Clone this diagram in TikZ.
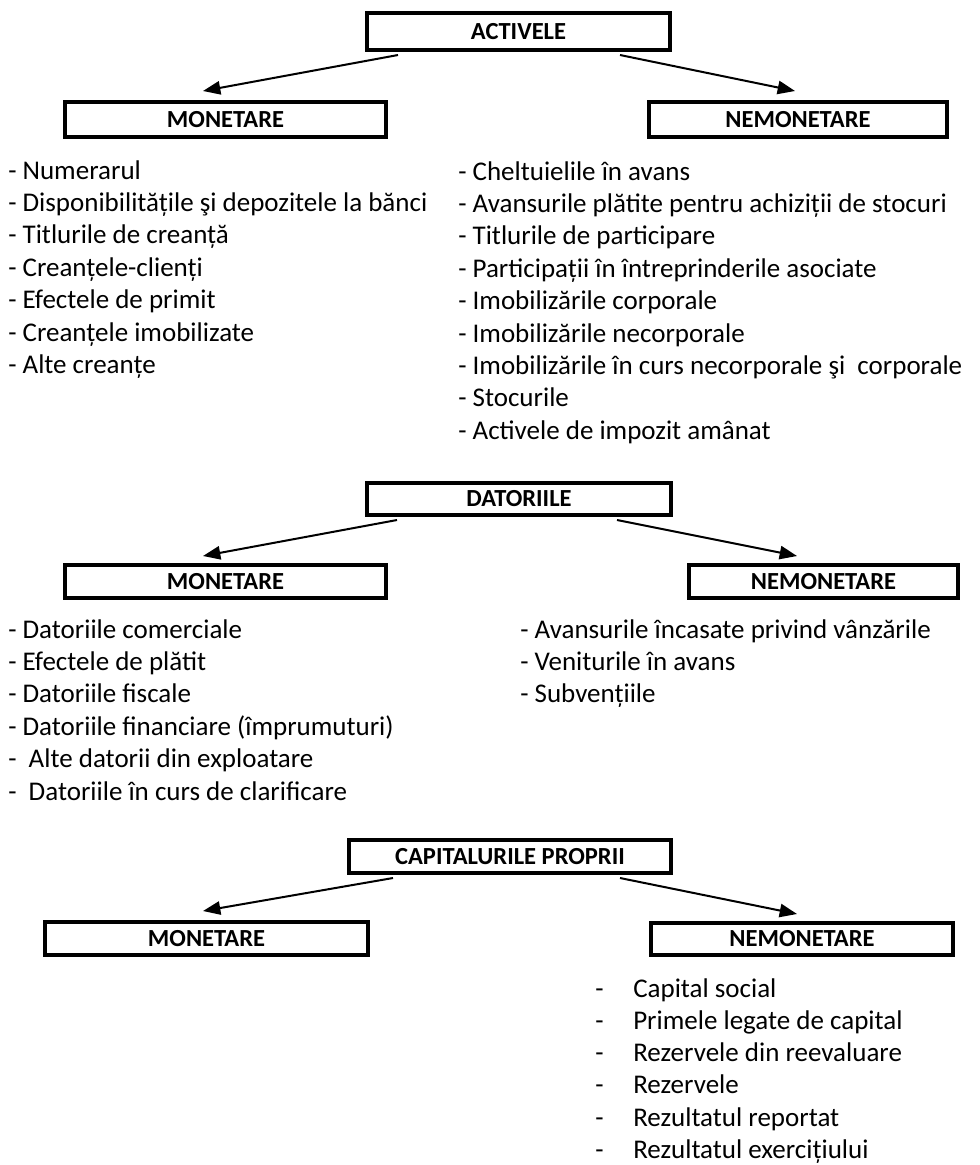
\documentclass[tikz,border=0pt]{standalone}
\usepackage{fontspec}
\setmainfont{Carlito}
\usetikzlibrary{arrows.meta,calc}
\begin{document}
\begin{tikzpicture}[x=0.75pt,y=-0.75pt,
  box/.style={draw, line width=3pt, inner sep=0pt, fill=white,
    font=\bfseries\fontsize{18.4pt}{22pt}\selectfont},
  bx/.style 2 args={minimum width=#1*0.75pt, minimum height=#2*0.75pt},
  item/.style={anchor=base west, inner sep=0pt, font=\fontsize{20.25pt}{24pt}\selectfont},
  arr/.style={line width=1.5pt, -{Triangle[length=13pt,width=10pt]}}]
\useasboundingbox (0,0) rectangle (980,1165);

% ---------- ACTIVELE ----------
\node[box, bx={303}{37}] (act)  at (518.5,31.5) {ACTIVELE};
\node[box, bx={321}{35}] (actm) at (225.5,119.5) {MONETARE};
\node[box, bx={298}{35}] (actn) at (798,119.5) {NEMONETARE};
\draw[arr] ($(act.south)+(-120.5,3)$) -- ($(actm.north)+(-22.5,-9)$);
\draw[arr] ($(act.south)+(101.5,3)$) -- ($(actn.north)+(-3,-9)$);

\foreach \t [count=\i] in {{- Numerarul},{- Disponibilitățile şi depozitele la bănci},{- Titlurile de creanță},{- Creanțele-clienți},{- Efectele de primit},{- Creanțele imobilizate},{- Alte creanțe}}
  \node[item] (al\i) at (8,{179+32.4*(\i-1)}) {\t};

\foreach \t [count=\i] in {{- Cheltuielile în avans},{- Avansurile plătite pentru achiziții de stocuri},{- Titlurile de participare},{- Participații în întreprinderile asociate},{- Imobilizările corporale},{- Imobilizările necorporale},{- Imobilizările în curs necorporale şi\ \ corporale},{- Stocurile},{- Activele de impozit amânat}}
  \node[item] (ar\i) at (458,{180+32.4*(\i-1)}) {\t};

% ---------- DATORIILE ----------
\node[box, bx={304}{32}] (dat)  at (519,498.5) {DATORIILE};
\node[box, bx={321}{33}] (datm) at (225.5,581.5) {MONETARE};
\node[box, bx={269}{33}] (datn) at (823.5,581.5) {NEMONETARE};
\draw[arr] ($(dat.south)+(-122,3.5)$) -- ($(datm.north)+(-22.5,-7)$);
\draw[arr] ($(dat.south)+(98,3.5)$) -- ($(datn.north)+(-26.5,-7)$);

\foreach \t [count=\i] in {{- Datoriile comerciale},{- Efectele de plătit},{- Datoriile fiscale},{- Datoriile financiare (împrumuturi)},{-\ \ Alte datorii din exploatare},{-\ \ Datoriile în curs de clarificare}}
  \node[item] (dl\i) at (8,{638+32.4*(\i-1)}) {\t};

\foreach \t [count=\i] in {{- Avansurile încasate privind vânzările},{- Veniturile în avans},{- Subvențiile}}
  \node[item] (dr\i) at (520,{638+32.4*(\i-1)}) {\t};

% ---------- CAPITALURILE PROPRII ----------
\node[box, bx={322}{33}] (cap)  at (510,856.5) {CAPITALURILE PROPRII};
\node[box, bx={323}{33}] (capm) at (206.5,938.5) {MONETARE};
\node[box, bx={302}{32}] (capn) at (802,939) {NEMONETARE};
\draw[arr] ($(cap.south)+(-117,3)$) -- ($(capm.north)+(-3.5,-9)$);
\draw[arr] ($(cap.south)+(110,3)$) -- ($(capn.north)+(-5,-7)$);

\foreach \t [count=\i] in {{Capital social},{Primele legate de capital},{Rezervele din reevaluare},{Rezervele},{Rezultatul reportat},{Rezultatul exercițiului}}
  \node[item] (cr\i) at (595,{997+32.3*(\i-1)}) {\makebox[28.5pt][l]{-}\t};
\end{tikzpicture}
\end{document}
